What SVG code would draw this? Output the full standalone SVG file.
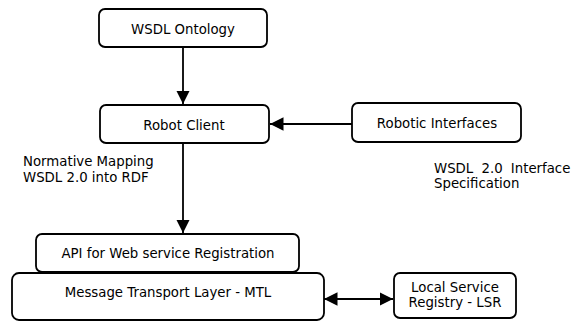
<svg xmlns="http://www.w3.org/2000/svg" width="576" height="322" viewBox="0 0 576 322">
<style>
.box{fill:#fff;stroke:#000;stroke-width:1.8}
.t{font-family:"DejaVu Sans",Verdana,sans-serif;font-size:13.3px;fill:#000}
.c{text-anchor:middle}
.ln{stroke:#000;stroke-width:1.8;fill:none}
</style>
<defs>
<marker id="ah" viewBox="0 0 10 10" refX="10" refY="5" markerWidth="7.5" markerHeight="7.5" orient="auto-start-reverse" markerUnits="strokeWidth">
<path d="M0,0 L10,5 L0,10 Z" fill="#000"/>
</marker>
</defs>
<g id="connectors">
<line class="ln" x1="183" y1="47" x2="183" y2="104" marker-end="url(#ah)"/>
<line class="ln" x1="352" y1="124" x2="270" y2="124" marker-end="url(#ah)"/>
<line class="ln" x1="183" y1="144" x2="183" y2="233" marker-end="url(#ah)"/>
<line class="ln" x1="324" y1="299" x2="393" y2="299" marker-start="url(#ah)" marker-end="url(#ah)"/>
</g>
<g id="wsdl-ontology">
<rect class="box" x="99" y="9" width="168" height="38" rx="6"/>
<text class="t c" x="183" y="34">WSDL Ontology</text>
</g>
<g id="robot-client">
<rect class="box" x="100" y="105" width="169" height="38" rx="6"/>
<text class="t c" x="184" y="130">Robot Client</text>
</g>
<g id="robotic-interfaces">
<rect class="box" x="352" y="103" width="169" height="39" rx="6"/>
<text class="t c" x="437" y="128">Robotic Interfaces</text>
</g>
<g id="mtl">
<rect class="box" x="12" y="273" width="312" height="47" rx="7"/>
<text class="t c" x="168" y="297">Message Transport Layer - MTL</text>
</g>
<g id="api">
<rect class="box" x="36" y="234" width="263" height="38" rx="6"/>
<text class="t c" x="168" y="258">API for Web service Registration</text>
</g>
<g id="lsr">
<rect class="box" x="394" y="273" width="122" height="45" rx="6"/>
<text class="t c" x="455" y="292">Local Service</text>
<text class="t c" x="455" y="307">Registry - LSR</text>
</g>
<g id="labels">
<text class="t" x="23" y="166">Normative Mapping</text>
<text class="t" x="23" y="182">WSDL 2.0 into RDF</text>
<text class="t" x="434" y="173" word-spacing="4">WSDL 2.0 Interface</text>
<text class="t" x="434" y="188">Specification</text>
</g>
</svg>
